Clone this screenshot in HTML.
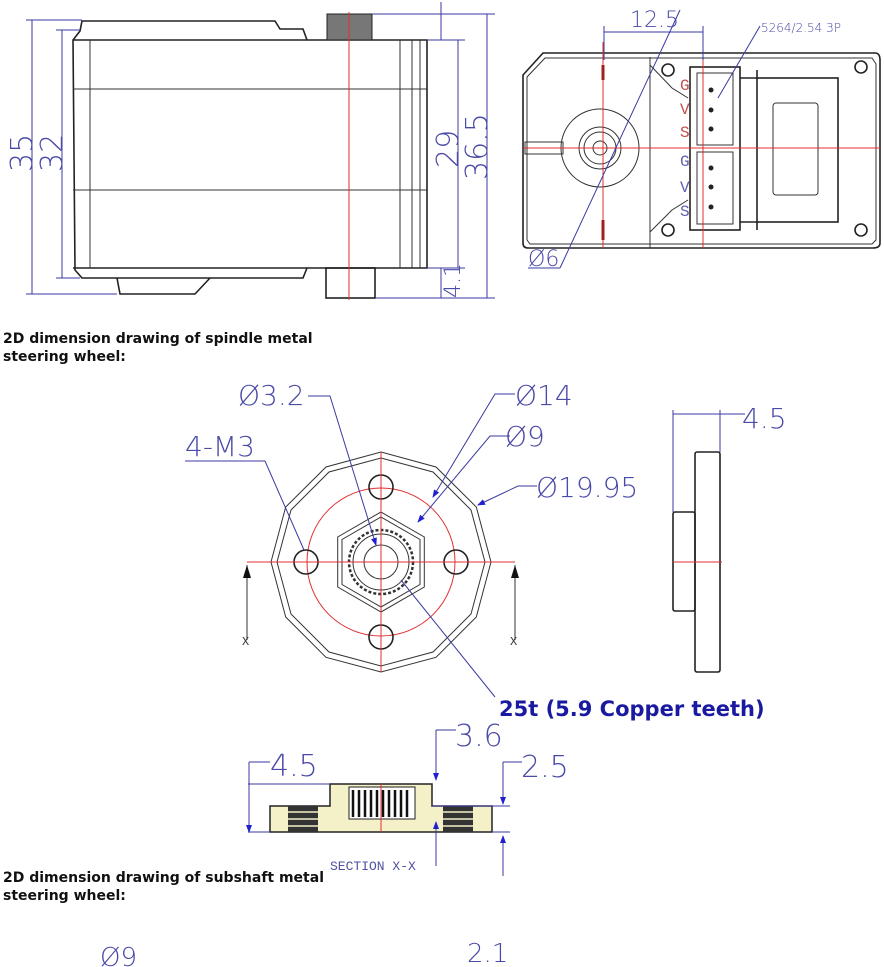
<!DOCTYPE html>
<html><head><meta charset="utf-8"><style>
html,body{margin:0;padding:0;background:#fff;}
svg{display:block;}
.b{fill:none;stroke:#222;stroke-width:1.6}
.t{fill:none;stroke:#333;stroke-width:1}
.r{fill:none;stroke:#e03030;stroke-width:1}
.d{fill:none;stroke:#3a3aa0;stroke-width:1}
.dt{font-family:"DejaVu Sans","Liberation Sans",sans-serif;fill:#4a4aa8;font-weight:200}
.lb{font-family:"DejaVu Sans","Liberation Sans",sans-serif;font-weight:bold;font-size:14px;fill:#111}
</style></head><body>
<svg width="884" height="967" viewBox="0 0 884 967" xmlns="http://www.w3.org/2000/svg">
<defs><marker id="a" markerWidth="8" markerHeight="8" refX="7" refY="4" orient="auto"><path d="M0,1 L8,4 L0,7z" fill="#2020d0"/></marker></defs>
<!-- LEFT VIEW -->
<path class="b" d="M82,21 L275,21 L280,29 L303,29 L307,40 L427,40 L427,268 L307,268 L303,278 L82,278 L75,270 L73,40 L80,31 Z"/>
<line class="b" x1="73" y1="40" x2="307" y2="40"/>
<line class="b" x1="73" y1="268" x2="307" y2="268"/>
<line class="t" x1="90" y1="40" x2="90" y2="268"/>
<line class="t" x1="73" y1="89" x2="427" y2="89"/>
<line class="t" x1="73" y1="190" x2="427" y2="190"/>
<line class="t" x1="400" y1="40" x2="400" y2="268"/>
<line class="t" x1="412" y1="40" x2="412" y2="268"/>
<line class="t" x1="420" y1="40" x2="420" y2="268"/>
<rect x="327" y="14" width="45" height="26" fill="#777" stroke="#222"/>
<rect x="326" y="268" width="49" height="30" class="b"/>
<path class="b" d="M117,278 L120,294 L195,294 L210,278"/>
<line class="r" x1="349" y1="12" x2="349" y2="300"/>
<!-- dims left -->
<line class="d" x1="32" y1="20" x2="32" y2="294"/><line class="d" x1="26" y1="20" x2="82" y2="20"/><line class="d" x1="26" y1="294" x2="117" y2="294"/>
<line class="d" x1="62" y1="30" x2="62" y2="278"/><line class="d" x1="56" y1="30" x2="80" y2="30"/><line class="d" x1="56" y1="278" x2="80" y2="278"/>
<text class="dt" font-size="30" transform="translate(32,172) rotate(-90)">35</text>
<text class="dt" font-size="30" transform="translate(62,172) rotate(-90)">32</text>
<line class="d" x1="458" y1="40" x2="458" y2="268"/><line class="d" x1="427" y1="40" x2="465" y2="40"/><line class="d" x1="427" y1="268" x2="465" y2="268"/>
<line class="d" x1="487" y1="14" x2="487" y2="298"/><line class="d" x1="372" y1="14" x2="495" y2="14"/><line class="d" x1="375" y1="298" x2="495" y2="298"/>
<line class="d" x1="441" y1="2" x2="441" y2="40"/><line class="d" x1="441" y1="268" x2="441" y2="298"/>
<text class="dt" font-size="30" transform="translate(458,168) rotate(-90)">29</text>
<text class="dt" font-size="30" transform="translate(487,180) rotate(-90)">36.5</text>
<text class="dt" font-size="22" transform="translate(460,298) rotate(-90)">4.1</text>
<!-- RIGHT VIEW -->
<path class="b" d="M543,53 L875,53 Q880,53 880,60 L880,243 Q880,248 873,248 L528,248 Q523,248 523,243 L523,75 Z"/>
<path class="t" d="M545,58 L872,58 L876,64 L876,240 L872,244 L530,244 L527,240 L527,77 Z"/>
<circle class="t" cx="600" cy="148" r="39"/><circle class="t" cx="600" cy="148" r="21"/><circle class="t" cx="600" cy="148" r="16"/><circle class="t" cx="600" cy="148" r="7"/>
<rect class="t" x="525" y="142" width="38" height="12"/>
<path class="t" d="M650,57 L650,248 M650,65 L672,88 L688,98 M650,232 L672,210 L688,200"/>
<rect class="b" x="690" y="67" width="50" height="163"/>
<rect class="t" x="697" y="73" width="36" height="72"/><rect class="t" x="697" y="152" width="36" height="72"/>
<circle cx="711" cy="90" r="2.5" fill="#222"/><circle cx="711" cy="110" r="2.5" fill="#222"/><circle cx="711" cy="129" r="2.5" fill="#222"/>
<circle cx="711" cy="168" r="2.5" fill="#222"/><circle cx="711" cy="187" r="2.5" fill="#222"/><circle cx="711" cy="207" r="2.5" fill="#222"/>
<path class="b" d="M740,78 L757,78 L757,70 M740,222 L757,222 L757,230"/>
<rect class="b" x="757" y="78" width="81" height="144"/>
<rect class="t" x="773" y="103" width="45" height="92" rx="3"/>
<circle class="b" cx="668" cy="70" r="6"/><circle class="b" cx="861" cy="67" r="6"/><circle class="b" cx="668" cy="230" r="6"/><circle class="b" cx="861" cy="230" r="6"/>
<line class="r" x1="523" y1="148" x2="880" y2="148"/>
<line class="r" x1="603" y1="42" x2="603" y2="248"/><line class="r" x1="703" y1="42" x2="703" y2="248"/>
<line x1="603" y1="65" x2="603" y2="80" stroke="#a02020" stroke-width="3"/><line x1="603" y1="220" x2="603" y2="240" stroke="#a02020" stroke-width="3"/>
<text x="680" y="90" font-family="Liberation Mono,monospace" font-size="16" fill="#c05050">G</text>
<text x="680" y="114" font-family="Liberation Mono,monospace" font-size="16" fill="#c05050">V</text>
<text x="680" y="137" font-family="Liberation Mono,monospace" font-size="16" fill="#c05050">S</text>
<text x="680" y="166" font-family="Liberation Mono,monospace" font-size="16" fill="#6060b0">G</text>
<text x="680" y="192" font-family="Liberation Mono,monospace" font-size="16" fill="#6060b0">V</text>
<text x="680" y="216" font-family="Liberation Mono,monospace" font-size="16" fill="#6060b0">S</text>
<line class="d" x1="604" y1="32" x2="703" y2="32"/><line class="d" x1="604" y1="26" x2="604" y2="60"/><line class="d" x1="703" y1="26" x2="703" y2="60"/>
<text class="dt" font-size="22" x="630" y="27">12.5</text>
<line class="d" x1="680" y1="10" x2="560" y2="268"/><line class="d" x1="528" y1="268" x2="560" y2="268"/>
<text class="dt" font-size="22" x="528" y="266">Ø6</text>
<line class="d" x1="760" y1="26" x2="718" y2="98"/>
<text class="dt" font-size="12" x="761" y="32">5264/2.54 3P</text>
<!-- titles -->
<text class="lb" x="3" y="343">2D dimension drawing of spindle metal</text>
<text class="lb" x="3" y="361">steering wheel:</text>
<!-- WHEEL FRONT -->
<polygon class="t" points="381,452 436,467 476.3,507 491,562 476.3,617 436,657.3 381,672 326,657.3 285.7,617 271,562 285.7,507 326,467"/>
<polygon class="t" points="381,458 433,472 471,510 485,562 471,614 433,652 381,666 329,652 291,614 277,562 291,510 329,472"/>
<circle class="r" cx="381" cy="562" r="74"/>
<circle class="b" cx="381" cy="487" r="12"/><circle class="b" cx="381" cy="637" r="12"/><circle class="b" cx="306" cy="562" r="12"/><circle class="b" cx="456" cy="562" r="12"/>
<polygon class="t" points="381,512 424.3,537 424.3,587 381,612 337.7,587 337.7,537"/>
<polygon class="t" points="381,517 420,539.5 420,584.5 381,607 342,584.5 342,539.5"/>
<circle cx="381" cy="562" r="32" fill="none" stroke="#333" stroke-width="2.5" stroke-dasharray="3 2"/>
<circle class="t" cx="381" cy="562" r="28"/>
<circle class="t" cx="381" cy="562" r="17"/>
<line class="r" x1="247" y1="562" x2="515" y2="562"/><line class="r" x1="381" y1="452" x2="381" y2="672"/>
<line class="t" x1="247" y1="565" x2="247" y2="640"/><path d="M243,578 L247,565 L251,578z" fill="#111"/>
<line class="t" x1="515" y1="565" x2="515" y2="640"/><path d="M511,578 L515,565 L519,578z" fill="#111"/>
<text x="242" y="645" font-family="Liberation Mono,monospace" font-size="12" fill="#333">X</text>
<text x="510" y="645" font-family="Liberation Mono,monospace" font-size="12" fill="#333">X</text>
<!-- leaders -->
<path class="d" d="M308,396 L330,396 L376,545" marker-end="url(#a)"/>
<text class="dt" font-size="28" x="238" y="405">Ø3.2</text>
<path class="d" d="M185,461 L265,461 L304,550"/>
<text class="dt" font-size="28" x="185" y="456">4-M3</text>
<path class="d" d="M515,394 L495,394 L433,497" marker-end="url(#a)"/>
<text class="dt" font-size="28" x="515" y="405">Ø14</text>
<path class="d" d="M510,436 L490,436 L418,522" marker-end="url(#a)"/>
<text class="dt" font-size="28" x="505" y="446">Ø9</text>
<path class="d" d="M537,486 L518,486 L478,505" marker-end="url(#a)"/>
<text class="dt" font-size="28" x="536" y="497">Ø19.95</text>
<line class="d" x1="401" y1="580" x2="495" y2="697"/>
<text x="499" y="716" font-family="DejaVu Sans,Liberation Sans,sans-serif" font-weight="bold" font-size="21" fill="#1a1aa0">25t (5.9 Copper teeth)</text>
<!-- WHEEL SIDE -->
<rect class="b" x="695" y="452" width="25" height="220" rx="2"/>
<rect class="b" x="673" y="512" width="22" height="99" rx="2"/>
<line class="r" x1="673" y1="562" x2="722" y2="562"/>
<line class="d" x1="673" y1="414" x2="720" y2="414"/><line class="d" x1="673" y1="410" x2="673" y2="512"/><line class="d" x1="720" y1="410" x2="720" y2="452"/><line class="d" x1="720" y1="414" x2="745" y2="414"/>
<text class="dt" font-size="28" x="742" y="428">4.5</text>
<!-- SECTION -->
<path d="M270,806 L330,806 L330,784 L432,784 L432,806 L492,806 L492,832 L270,832 Z" fill="#f4f0c8" stroke="#222" stroke-width="1.5"/>
<rect x="349" y="787" width="66" height="32" fill="#fff" stroke="#222"/>
<g stroke="#111" stroke-width="2.5"><line x1="353" y1="790" x2="353" y2="817"/><line x1="359" y1="790" x2="359" y2="817"/><line x1="365" y1="790" x2="365" y2="817"/><line x1="371" y1="790" x2="371" y2="817"/><line x1="377" y1="790" x2="377" y2="817"/><line x1="383" y1="790" x2="383" y2="817"/><line x1="389" y1="790" x2="389" y2="817"/><line x1="395" y1="790" x2="395" y2="817"/><line x1="401" y1="790" x2="401" y2="817"/><line x1="407" y1="790" x2="407" y2="817"/></g>
<rect x="288" y="806" width="30" height="26" fill="#333"/><rect x="443" y="806" width="30" height="26" fill="#333"/>
<g stroke="#f4f0c8" stroke-width="1.5"><line x1="288" y1="812" x2="318" y2="812"/><line x1="288" y1="819" x2="318" y2="819"/><line x1="288" y1="826" x2="318" y2="826"/><line x1="443" y1="812" x2="473" y2="812"/><line x1="443" y1="819" x2="473" y2="819"/><line x1="443" y1="826" x2="473" y2="826"/></g>
<line class="r" x1="381" y1="784" x2="381" y2="832"/>
<line class="d" x1="248" y1="784" x2="330" y2="784"/><line class="d" x1="248" y1="832" x2="270" y2="832"/>
<line class="d" x1="249" y1="762" x2="249" y2="832" marker-end="url(#a)"/><line class="d" x1="249" y1="762" x2="270" y2="762"/>
<text class="dt" font-size="30" x="270" y="776">4.5</text>
<line class="d" x1="436" y1="730" x2="436" y2="780" marker-end="url(#a)"/><line class="d" x1="436" y1="730" x2="456" y2="730"/>
<line class="d" x1="436" y1="866" x2="436" y2="822" marker-end="url(#a)"/>
<text class="dt" font-size="30" x="455" y="746">3.6</text>
<line class="d" x1="503" y1="762" x2="503" y2="804" marker-end="url(#a)"/><line class="d" x1="503" y1="762" x2="522" y2="762"/>
<line class="d" x1="503" y1="876" x2="503" y2="836" marker-end="url(#a)"/>
<line class="d" x1="432" y1="806" x2="510" y2="806"/><line class="d" x1="492" y1="832" x2="510" y2="832"/>
<text class="dt" font-size="30" x="521" y="777">2.5</text>
<text x="330" y="870" font-family="Liberation Mono,monospace" font-size="13" fill="#5050a0">SECTION X-X</text>
<text class="lb" x="3" y="882">2D dimension drawing of subshaft metal</text>
<text class="lb" x="3" y="900">steering wheel:</text>
<text class="dt" font-size="26" x="100" y="966">Ø9</text>
<text class="dt" font-size="26" x="467" y="962">2.1</text>
</svg>
</body></html>
